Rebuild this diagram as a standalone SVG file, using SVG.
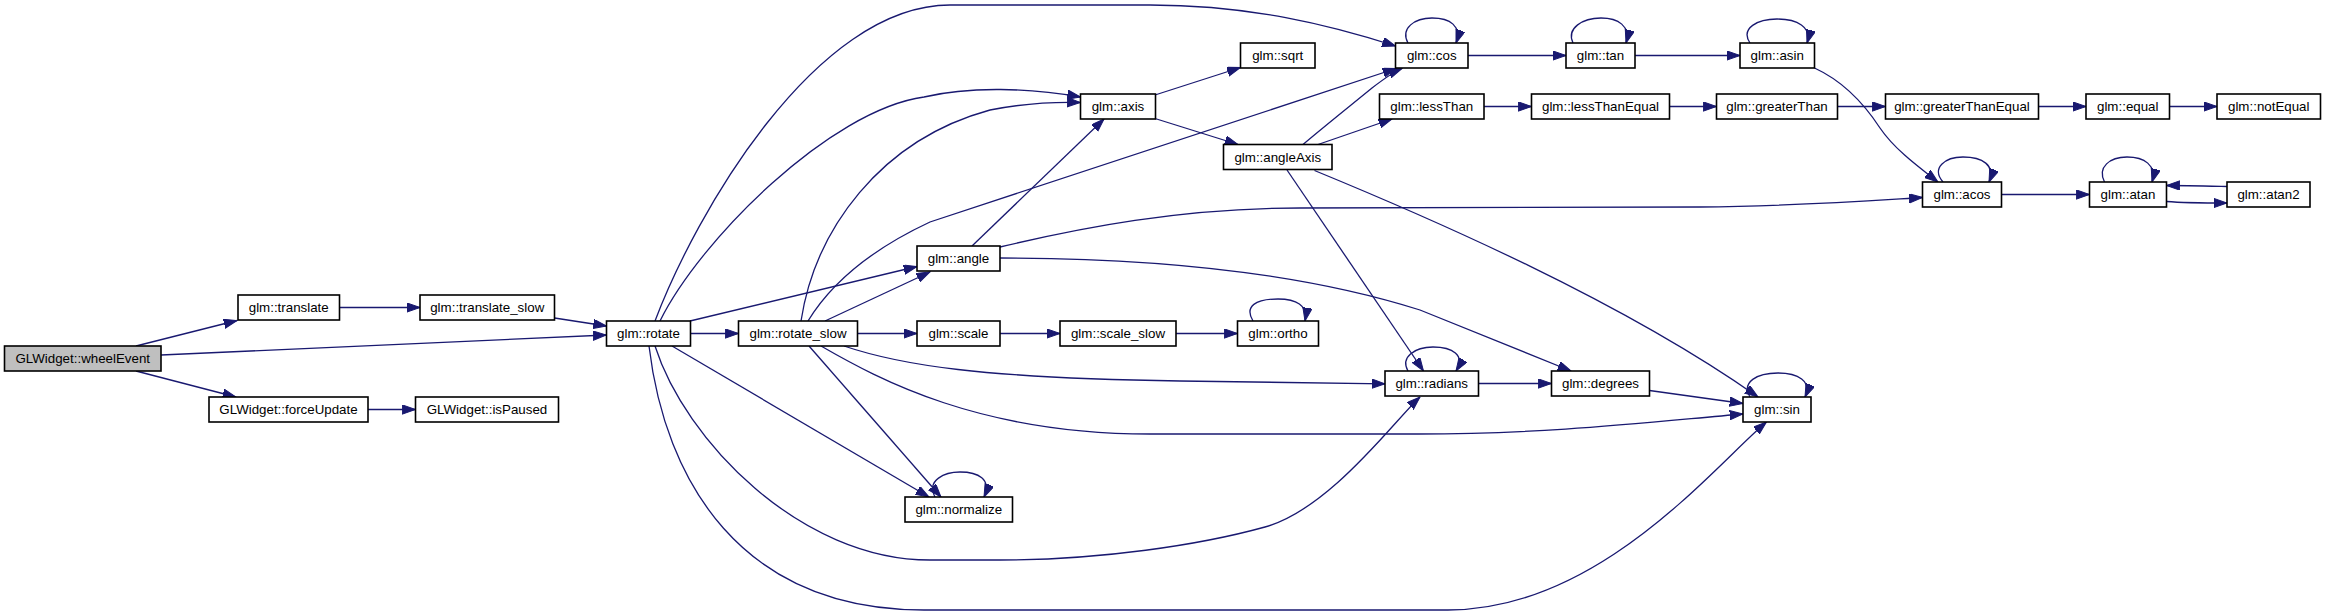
<svg xmlns="http://www.w3.org/2000/svg" width="2325" height="616" viewBox="0 0 2325 616">
<style>
.n rect{fill:#fff;stroke:#000;stroke-width:1.6}
.n.root rect{fill:#bfbfbf}
.n text{font-family:"Liberation Sans",Arial,sans-serif;font-size:13.33px;text-anchor:middle;fill:#000}
#edges path{fill:none;stroke:#191970;stroke-width:1.3;marker-end:url(#ah)}
</style>
<defs>
<marker id="ah" markerUnits="userSpaceOnUse" markerWidth="14" markerHeight="10" refX="13.3" refY="4.67" orient="auto" viewBox="0 0 14 10">
<path d="M0,0 L13.3,4.67 L0,9.33 z" fill="#191970" stroke="#191970" stroke-width="1"/>
</marker>
</defs>
<rect width="2325" height="616" fill="#fff"/>
<g id="edges">
<path d="M136,346 L237,320.5"/>
<path d="M161,355 L606.5,335"/>
<path d="M136,371 L236,397"/>
<path d="M339.5,307.5 L420,307.5"/>
<path d="M554.5,318 L606.5,326"/>
<path d="M368,409.5 L415.5,409.5"/>
<path d="M690.5,333.5 L738.5,333.5"/>
<path d="M690,321 L917,266.5"/>
<path d="M660,321 C700,240 830,110 924,97 C970,86 1030,88 1080.5,97"/>
<path d="M655,321 C695,215 815,5 950,5 L1150,5 C1250,5 1330,25 1395.5,46"/>
<path d="M672,346 L929,497"/>
<path d="M655,346 C685,440 800,560 930,560 L1000,560 C1100,560 1200,545 1265,527 C1330,509 1395,420 1420,397"/>
<path d="M649,346 C665,480 740,610 924,610 L1448,610 C1600,610 1715,465 1766.5,422"/>
<path d="M825,321 L930,272"/>
<path d="M801,321 C815,230 880,140 990,110 C1030,102 1060,102 1080.5,102.5"/>
<path d="M808,321 C830,285 870,250 930,222 L1396,68.5"/>
<path d="M857.5,333.5 L917,333.5"/>
<path d="M809,346 L941,497"/>
<path d="M844,346 C900,365 980,378 1180,381 L1385,383.8"/>
<path d="M821,346 C880,380 980,434 1150,434 L1418,434 C1550,434 1650,422 1743,414"/>
<path d="M972,246 L1104,119"/>
<path d="M1000,247 C1080,228 1180,208 1300,208 L1700,207 C1800,206 1880,200 1922.5,197.5"/>
<path d="M1000,258 C1150,258 1300,272 1420,310 L1571,371"/>
<path d="M1000,333.5 L1060,333.5"/>
<path d="M1176,333.5 L1237.5,333.5"/>
<path d="M1253,321 C1244,306 1256,299 1278,299 C1296,299 1308,305 1305,321"/>
<path d="M1155,95 L1240.5,67.5"/>
<path d="M1155,118.5 L1238,144.5"/>
<path d="M1303,144.5 C1320,130 1345,110 1372,88 C1385,78 1393,72 1402,68.5"/>
<path d="M1318,144.5 L1392,119"/>
<path d="M1287,170 L1423.5,371"/>
<path d="M1314.5,170.5 C1430,218 1620,300 1758,397"/>
<path d="M1408,43 C1400,28 1415,18 1432,18 C1450,18 1462,26 1456,43"/>
<path d="M1468,55.5 L1566,55.5"/>
<path d="M1573,43 C1566,28 1583,18 1601,18 C1618,18 1631,26 1626,43"/>
<path d="M1635,55.5 L1740,55.5"/>
<path d="M1750,43 C1740,28 1758,19 1777,19 C1797,19 1812,27 1807,43"/>
<path d="M1814.5,68 C1845,82 1865,105 1880,128 C1895,150 1920,168 1938,182"/>
<path d="M1484,106.5 L1531.5,106.5"/>
<path d="M1669.5,106.5 L1716.5,106.5"/>
<path d="M1837.5,106.5 L1885.5,106.5"/>
<path d="M2038.5,106.5 L2086,106.5"/>
<path d="M2169.5,106.5 L2217,106.5"/>
<path d="M1943,182 C1931,168 1945,157 1963,157 C1982,157 1996,165 1989,182"/>
<path d="M2001.5,194.5 L2089.5,194.5"/>
<path d="M2104.5,182 C2097,167 2110,157 2127,157 C2144,157 2157,165 2152,182"/>
<path d="M2166.5,201.5 C2185,203 2205,203 2227,203"/>
<path d="M2227,186.5 C2205,186 2185,185.5 2166.5,185.5"/>
<path d="M1408,371 C1400,357 1415,347 1433,347 C1452,347 1466,355 1456,371"/>
<path d="M1478.5,383.5 L1551.5,383.5"/>
<path d="M1649.5,390.5 L1743,403.5"/>
<path d="M1750,397 C1741,382 1757,373 1778,373 C1798,373 1812,381 1805,397"/>
<path d="M935,497 C926,480 945,472 960,472 C978,472 992,479 984,497"/>
</g>
<g id="wheelEvent" class="n root"><rect x="4.5" y="346" width="156.5" height="25"/><text x="82.75" y="363">GLWidget::wheelEvent</text></g>
<g id="translate" class="n"><rect x="238" y="295" width="101.5" height="25"/><text x="288.75" y="312">glm::translate</text></g>
<g id="translate_slow" class="n"><rect x="420" y="295" width="134.5" height="25"/><text x="487.25" y="312">glm::translate_slow</text></g>
<g id="forceUpdate" class="n"><rect x="209" y="397" width="159" height="25"/><text x="288.5" y="414">GLWidget::forceUpdate</text></g>
<g id="isPaused" class="n"><rect x="415.5" y="397" width="143" height="25"/><text x="487" y="414">GLWidget::isPaused</text></g>
<g id="rotate" class="n"><rect x="606.5" y="321" width="84" height="25"/><text x="648.5" y="338">glm::rotate</text></g>
<g id="rotate_slow" class="n"><rect x="738.5" y="321" width="119" height="25"/><text x="798" y="338">glm::rotate_slow</text></g>
<g id="scale" class="n"><rect x="917" y="321" width="83" height="25"/><text x="958.5" y="338">glm::scale</text></g>
<g id="scale_slow" class="n"><rect x="1060" y="321" width="116" height="25"/><text x="1118" y="338">glm::scale_slow</text></g>
<g id="ortho" class="n"><rect x="1237.5" y="321" width="81" height="25"/><text x="1278" y="338">glm::ortho</text></g>
<g id="normalize" class="n"><rect x="905" y="497" width="107.5" height="25"/><text x="958.75" y="514">glm::normalize</text></g>
<g id="angle" class="n"><rect x="917" y="246" width="83" height="25"/><text x="958.5" y="263">glm::angle</text></g>
<g id="axis" class="n"><rect x="1080.5" y="94" width="75" height="25"/><text x="1118" y="111">glm::axis</text></g>
<g id="sqrt" class="n"><rect x="1240.5" y="43" width="74.5" height="25"/><text x="1277.75" y="60">glm::sqrt</text></g>
<g id="angleAxis" class="n"><rect x="1223.5" y="144.5" width="108.5" height="25"/><text x="1277.75" y="161.5">glm::angleAxis</text></g>
<g id="cos" class="n"><rect x="1395.5" y="43" width="72.5" height="25"/><text x="1431.75" y="60">glm::cos</text></g>
<g id="lessThan" class="n"><rect x="1379.5" y="94" width="104.5" height="25"/><text x="1431.75" y="111">glm::lessThan</text></g>
<g id="radians" class="n"><rect x="1385" y="371" width="93.5" height="25"/><text x="1431.75" y="388">glm::radians</text></g>
<g id="tan" class="n"><rect x="1566" y="43" width="69" height="25"/><text x="1600.5" y="60">glm::tan</text></g>
<g id="lessThanEqual" class="n"><rect x="1531.5" y="94" width="138" height="25"/><text x="1600.5" y="111">glm::lessThanEqual</text></g>
<g id="degrees" class="n"><rect x="1551.5" y="371" width="98" height="25"/><text x="1600.5" y="388">glm::degrees</text></g>
<g id="asin" class="n"><rect x="1740" y="43" width="74.5" height="25"/><text x="1777.25" y="60">glm::asin</text></g>
<g id="greaterThan" class="n"><rect x="1716.5" y="94" width="121" height="25"/><text x="1777" y="111">glm::greaterThan</text></g>
<g id="sin" class="n"><rect x="1743" y="397" width="68" height="25"/><text x="1777" y="414">glm::sin</text></g>
<g id="acos" class="n"><rect x="1922.5" y="182" width="79" height="25"/><text x="1962" y="199">glm::acos</text></g>
<g id="greaterThanEqual" class="n"><rect x="1885.5" y="94" width="153" height="25"/><text x="1962" y="111">glm::greaterThanEqual</text></g>
<g id="equal" class="n"><rect x="2086" y="94" width="83.5" height="25"/><text x="2127.75" y="111">glm::equal</text></g>
<g id="atan" class="n"><rect x="2089.5" y="182" width="77" height="25"/><text x="2128" y="199">glm::atan</text></g>
<g id="notEqual" class="n"><rect x="2217" y="94" width="103.5" height="25"/><text x="2268.75" y="111">glm::notEqual</text></g>
<g id="atan2" class="n"><rect x="2227" y="182" width="83" height="25"/><text x="2268.5" y="199">glm::atan2</text></g>
</svg>
